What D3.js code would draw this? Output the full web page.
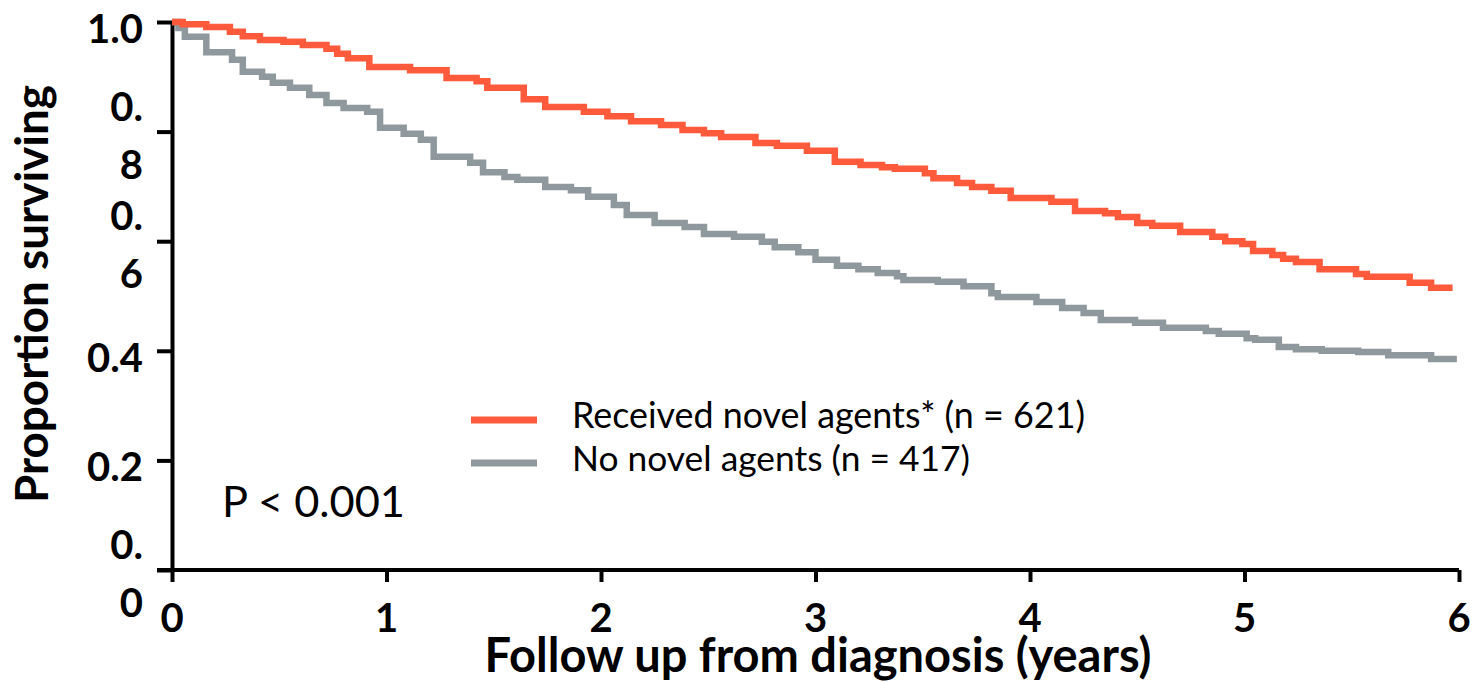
<!DOCTYPE html>
<html>
<head>
<meta charset="utf-8">
<script src="https://cdn.jsdelivr.net/npm/d3@7"></script>
<style>
  body { margin: 0; background: #fff; }
  svg { display: block; }
</style>
</head>
<body>
<svg id="chart"></svg>
<script>
// Kaplan-Meier steps (years, proportion surviving)
const novelTimes = [0, 0.05, 0.16, 0.27, 0.33, 0.41, 0.52, 0.61, 0.72, 0.77, 0.82, 0.92, 1.11, 1.28, 1.42, 1.47,
  1.64, 1.74, 1.92, 2.03, 2.14, 2.28, 2.38, 2.48, 2.56, 2.72, 2.82, 2.96, 3.09, 3.21, 3.31, 3.37, 3.51, 3.55,
  3.66, 3.73, 3.82, 3.91, 4.10, 4.21, 4.35, 4.41, 4.50, 4.57, 4.70, 4.85, 4.91, 4.99, 5.04, 5.13, 5.18, 5.24,
  5.35, 5.52, 5.57, 5.77, 5.87, 5.97];
const novelSurv = [1.0, 0.996, 0.991, 0.982, 0.974, 0.967, 0.964, 0.958, 0.951, 0.942, 0.934, 0.918, 0.912, 0.898,
  0.892, 0.880, 0.859, 0.845, 0.836, 0.828, 0.819, 0.812, 0.803, 0.797, 0.790, 0.779, 0.774, 0.765, 0.745, 0.739,
  0.735, 0.732, 0.724, 0.715, 0.706, 0.699, 0.692, 0.679, 0.672, 0.655, 0.651, 0.644, 0.633, 0.628, 0.617, 0.608,
  0.600, 0.595, 0.582, 0.575, 0.568, 0.562, 0.549, 0.540, 0.535, 0.524, 0.515, 0.515];

const noNovelTimes = [0, 0.03, 0.06, 0.16, 0.28, 0.33, 0.42, 0.47, 0.55, 0.64, 0.72, 0.80, 0.91, 0.97, 1.08, 1.16,
  1.22, 1.39, 1.45, 1.55, 1.61, 1.74, 1.86, 1.94, 2.06, 2.12, 2.25, 2.39, 2.48, 2.62, 2.75, 2.81, 2.92, 3.00,
  3.10, 3.20, 3.29, 3.38, 3.41, 3.57, 3.69, 3.82, 3.85, 4.03, 4.15, 4.25, 4.33, 4.49, 4.62, 4.82, 4.88, 5.01,
  5.05, 5.16, 5.24, 5.36, 5.53, 5.67, 5.87, 5.99];
const noNovelSurv = [1.0, 0.989, 0.973, 0.945, 0.931, 0.909, 0.900, 0.889, 0.880, 0.867, 0.852, 0.843, 0.836, 0.807,
  0.796, 0.785, 0.754, 0.743, 0.726, 0.717, 0.712, 0.699, 0.693, 0.681, 0.666, 0.648, 0.633, 0.626, 0.613, 0.608,
  0.599, 0.589, 0.580, 0.566, 0.555, 0.549, 0.542, 0.536, 0.529, 0.526, 0.518, 0.505, 0.498, 0.489, 0.478, 0.469,
  0.456, 0.451, 0.442, 0.436, 0.431, 0.423, 0.420, 0.407, 0.403, 0.400, 0.398, 0.392, 0.385, 0.385];

const seriesNames = ["Received novel agents* (n = 621)", "No novel agents (n = 417)"];
const seriesColors = ["#ff5a3c", "#8f989c"];

const yTicks = [1.0, 0.8, 0.6, 0.4, 0.2, 0];
const yTickLabels = ["1.0", "0.|8", "0.|6", "0.4", "0.2", "0.|0"]; // "|" = wrapped line
const xTicks = [0, 1, 2, 3, 4, 5, 6];

const width = 1476;
const height = 683;
const font = "Lato, 'Open Sans', sans-serif";

const svg = d3.select("#chart")
  .attr("width", width)
  .attr("height", height)
  .style("font-family", font);

const x = d3.scaleLinear().domain([0, 6]).range([172, 1459]);
const y = d3.scaleLinear().domain([0, 1]).range([570, 22]);

// shrink/grow font so text fits the width measured on the picture
const fitWidth = (sel, target) => {
  const fs = parseFloat(sel.attr("font-size"));
  const w = sel.node().getComputedTextLength();
  sel.attr("font-size", (fs * target / w).toFixed(2));
};

// y axis
const yAxis = svg.append("g")
  .attr("transform", `translate(${x(0)},0)`)
  .call(d3.axisLeft(y).tickValues(yTicks).tickSize(15).tickSizeOuter(0).tickFormat(""));
yAxis.select(".domain").attr("stroke", "#000").attr("stroke-width", 4);
yAxis.selectAll(".tick line").attr("stroke", "#000").attr("stroke-width", 4);

yTicks.forEach((v, i) => {
  const parts = yTickLabels[i].split("|");
  const t = svg.append("text")
    .attr("text-anchor", "end")
    .attr("font-weight", 700)
    .attr("font-size", 40)
    .attr("fill", "#000");
  if (parts.length === 1) {
    t.append("tspan").attr("x", 143).attr("y", y(v) + 21).text(parts[0]);
  } else {
    t.append("tspan").attr("x", 143).attr("y", y(v) - 11).text(parts[0]);
    t.append("tspan").attr("x", 143).attr("y", y(v) + 47).text(parts[1]);
  }
});

// x axis
const xAxis = svg.append("g")
  .attr("transform", `translate(0,${y(0)})`)
  .call(d3.axisBottom(x).tickValues(xTicks).tickSize(12).tickSizeOuter(0).tickFormat(""));
xAxis.select(".domain").attr("stroke", "#000").attr("stroke-width", 4)
  .attr("d", `M${x(0) - 15},0H${x(6)}`);
xAxis.selectAll(".tick line").attr("stroke", "#000").attr("stroke-width", 4);

svg.append("g").selectAll("text")
  .data(xTicks)
  .join("text")
  .attr("x", d => x(d))
  .attr("y", 632)
  .attr("text-anchor", "middle")
  .attr("font-weight", 700)
  .attr("font-size", 40)
  .text(d => d);

// axis titles
const xTitle = svg.append("text")
  .attr("x", 818)
  .attr("y", 672)
  .attr("text-anchor", "middle")
  .attr("font-weight", 700)
  .attr("font-size", 40)
  .text("Follow up from diagnosis (years)");
fitWidth(xTitle, 667);

const yTitle = svg.append("text")
  .attr("transform", "translate(48,294) rotate(-90)")
  .attr("text-anchor", "middle")
  .attr("font-weight", 700)
  .attr("font-size", 40)
  .text("Proportion surviving");
fitWidth(yTitle, 418);

// survival curves
const line = d3.line()
  .x(d => x(d[0]))
  .y(d => y(d[1]))
  .curve(d3.curveStepAfter);

const curves = [
  d3.zip(noNovelTimes, noNovelSurv),
  d3.zip(novelTimes, novelSurv)
];
const curveColors = [seriesColors[1], seriesColors[0]];

svg.append("g").selectAll("path")
  .data(curves)
  .join("path")
  .attr("d", line)
  .attr("fill", "none")
  .attr("stroke", (d, i) => curveColors[i])
  .attr("stroke-width", 6.5);

// legend
const legend = svg.append("g");
seriesNames.forEach((name, i) => {
  const ly = 420 + i * 43;
  legend.append("line")
    .attr("x1", 471).attr("x2", 537)
    .attr("y1", ly).attr("y2", ly)
    .attr("stroke", seriesColors[i])
    .attr("stroke-width", 7);
  const t = legend.append("text")
    .attr("x", 572)
    .attr("y", ly + 8)
    .attr("font-size", 32)
    .text(name);
  if (i === 0) fitWidth(t, 513);
  else fitWidth(t, 398);
});

// p-value
const pText = svg.append("text")
  .attr("x", 222)
  .attr("y", 517)
  .attr("font-size", 40)
  .text("P < 0.001");
fitWidth(pText, 183);
</script>
</body>
</html>
